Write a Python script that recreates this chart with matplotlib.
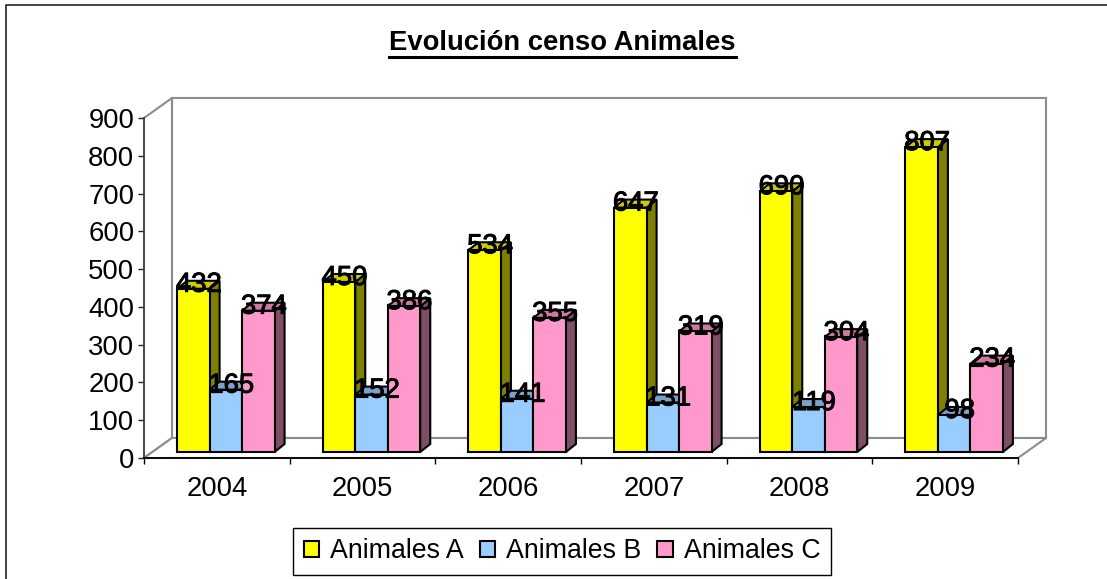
import matplotlib
matplotlib.use('Agg')
import matplotlib.pyplot as plt
import matplotlib.patheffects as pe
from matplotlib.patches import Polygon, Rectangle

plt.rcParams['font.family'] = ['Liberation Sans', 'DejaVu Sans']

years = ['2004', '2005', '2006', '2007', '2008', '2009']
animales_a = [432, 450, 534, 647, 690, 807]
animales_b = [165, 152, 141, 131, 119, 98]
animales_c = [374, 386, 355, 319, 304, 234]
series_names = ['Animales A', 'Animales B', 'Animales C']
yticks = [0, 100, 200, 300, 400, 500, 600, 700, 800, 900]

front_colors = ['#ffff00', '#99ccff', '#ff99cc']
top_colors = ['#cccc00', '#7aa3cc', '#cc7aa3']
side_colors = ['#808000', '#4d6680', '#804d66']

W, H = 1107, 579
fig = plt.figure(figsize=(W / 100, H / 100), dpi=100)

# front plane of the fake 3d box, in pixels
left, right, bottom, top = 144, 1018, 458, 118
ax = fig.add_axes([left / W, 1 - bottom / H, (right - left) / W, (bottom - top) / H])
ax.set_xlim(-0.5, 5.5)
ax.set_ylim(0, 900)
ax.patch.set_alpha(0)

# pixel -> data sizes
px_x = 6 / (right - left)
px_y = 900 / (bottom - top)

# walls and floor
depth_x, depth_y = 28 * px_x, 20 * px_y
wall = dict(facecolor='white', edgecolor='#8c8c8c', linewidth=1.5, clip_on=False, zorder=1)
ax.add_patch(Rectangle((-0.5 + depth_x, depth_y), 6, 900, **wall))
ax.add_patch(Polygon([(-0.5, 0), (-0.5 + depth_x, depth_y), (-0.5 + depth_x, 900 + depth_y), (-0.5, 900)], **wall))
ax.add_patch(Polygon([(-0.5, 0), (5.5, 0), (5.5 + depth_x, depth_y), (-0.5 + depth_x, depth_y)], **wall))

# bars
bar_w = 32.5 * px_x
bar_dx, bar_dy = 10 * px_x, 8 * px_y
base = 6 * px_y
shift = 9 * px_x
for s, values in enumerate([animales_a, animales_b, animales_c]):
    for i, v in enumerate(values):
        x0 = i + shift + (s - 1.5) * bar_w
        x1 = x0 + bar_w
        y1 = base + v
        ax.bar(x0, v, bar_w, bottom=base, align='edge', color=front_colors[s],
               edgecolor='black', linewidth=1.5, zorder=3 + s * 2 + 1)
        ax.add_patch(Polygon([(x1, base), (x1 + bar_dx, base + bar_dy), (x1 + bar_dx, y1 + bar_dy), (x1, y1)],
                             facecolor=side_colors[s], edgecolor='black', linewidth=1.5, zorder=3 + s * 2))
        ax.add_patch(Polygon([(x0, y1), (x0 + bar_dx, y1 + bar_dy), (x1 + bar_dx, y1 + bar_dy), (x1, y1)],
                             facecolor=top_colors[s], edgecolor='black', linewidth=1.5, zorder=3 + s * 2))
        ax.text(x0 + bar_w / 2 + 5.5 * px_x, y1 + 4 * px_y, str(v), ha='center', va='center',
                fontsize=19.8, color='black', zorder=20,
                path_effects=[pe.withStroke(linewidth=0.7, foreground='black')])

# axes
ax.set_yticks(yticks)
ax.set_xticks(range(6))
ax.set_xticklabels(years)
ax.xaxis.set_tick_params(length=0, labelsize=19.8, pad=13)
ax.set_xticks([i - 0.5 for i in range(7)], minor=True)
ax.tick_params(axis='x', which='minor', length=4, width=1, color='black', direction='out')
ax.tick_params(axis='y', length=4, width=1, labelsize=19.8, pad=3, color='#222222', direction='out')
for name, sp in ax.spines.items():
    sp.set_visible(name in ('left', 'bottom'))
    sp.set_zorder(2)
ax.spines['left'].set_color('#444444')
ax.spines['left'].set_linewidth(1.3)
ax.spines['bottom'].set_color('black')
ax.spines['bottom'].set_linewidth(1.3)

# title, underlined by hand
t = fig.text(562.5 / W, 1 - 43.5 / H, 'Evolución censo Animales', ha='center', va='center',
             fontsize=19.7, fontweight='bold', color='black')
fig.canvas.draw()
bb = t.get_window_extent()
fig.add_artist(plt.Line2D([bb.x0 / W, bb.x1 / W], [1 - 57 / H, 1 - 57 / H], color='black', linewidth=2.2))

# legend
handles = [Rectangle((0, 0), 1, 1, facecolor=c, edgecolor='black', linewidth=1.5) for c in front_colors]
leg = fig.legend(handles, series_names, loc='center', bbox_to_anchor=(562 / W, 1 - 551.5 / H), ncol=3,
                 fontsize=19.3, frameon=True, fancybox=False, edgecolor='black', framealpha=1,
                 handlelength=0.58, handleheight=0.58, handletextpad=0.4, columnspacing=0.6, borderpad=0.4)
leg.get_frame().set_linewidth(1)

# outer chart border, only top and left are in the picture
fig.add_artist(plt.Line2D([6 / W, 6 / W, 1], [0, 1 - 5 / H, 1 - 5 / H], color='#222222', linewidth=1.2))

fig.savefig('out.png', dpi=100)
